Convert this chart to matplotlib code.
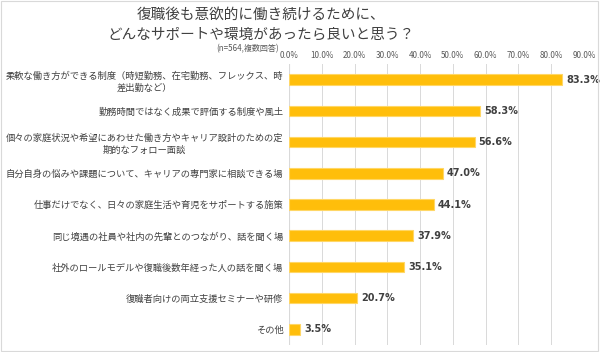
import matplotlib.pyplot as plt
from matplotlib.ticker import MultipleLocator, PercentFormatter

plt.rcParams["font.family"] = ["Noto Sans CJK JP", "DejaVu Sans"]

categories = [
    "柔軟な働き方ができる制度（時短勤務、在宅勤務、フレックス、時\n差出勤など）",
    "勤務時間ではなく成果で評価する制度や風土",
    "個々の家庭状況や希望にあわせた働き方やキャリア設計のための定\n期的なフォロー面談",
    "自分自身の悩みや課題について、キャリアの専門家に相談できる場",
    "仕事だけでなく、日々の家庭生活や育児をサポートする施策",
    "同じ境遇の社員や社内の先輩とのつながり、話を聞く場",
    "社外のロールモデルや復職後数年経った人の話を聞く場",
    "復職者向けの両立支援セミナーや研修",
    "その他",
]
values = [83.3, 58.3, 56.6, 47.0, 44.1, 37.9, 35.1, 20.7, 3.5]

fig = plt.figure(figsize=(6.0, 3.52), dpi=100)
ax = fig.add_axes([289 / 600, 1 - 345 / 352, 295 / 600, (345 - 64) / 352])

ypos = list(range(len(categories)))
ax.barh(ypos, values, height=0.34, color="#FFBE0B", edgecolor="#FFD766", linewidth=0.8, zorder=3)
for y, v in zip(ypos, values):
    ax.text(v + 1.2, y, f"{v:.1f}%", va="center", ha="left", fontsize=7,
            fontweight="bold", color="#404040", family="DejaVu Sans")

ax.set_xlim(0, 90)
ax.set_ylim(len(categories) - 0.5, -0.5)
ax.xaxis.set_major_locator(MultipleLocator(10))
ax.xaxis.set_major_formatter(PercentFormatter(decimals=1))
ax.xaxis.tick_top()
ax.tick_params(axis="x", length=0, labelsize=5.8, labelcolor="#595959", pad=3)
ax.set_yticks(ypos)
ax.set_yticklabels(categories, fontsize=6.7, color="#404040", multialignment="center",
                   linespacing=1.35)
ax.tick_params(axis="y", length=0, pad=4)
ax.grid(axis="x", color="#D9D9D9", linewidth=0.7, zorder=0)
for s in ax.spines.values():
    s.set_visible(False)
ax.axvline(0, color="#D9D9D9", linewidth=0.8, zorder=2)

fig.text(261 / 600, 1 - 15 / 352, "復職後も意欲的に働き続けるために、", ha="center", va="center",
         fontsize=10.5, color="#404040")
fig.text(261 / 600, 1 - 35 / 352, "どんなサポートや環境があったら良いと思う？", ha="center", va="center",
         fontsize=10.5, color="#404040")
fig.text(248 / 600, 1 - 49 / 352, "(n=564,複数回答)", ha="center", va="center",
         fontsize=5.8, color="#595959")

# 外枠
fig.add_artist(plt.Rectangle((0.002, 0.003), 0.995, 0.994, transform=fig.transFigure,
                             fill=False, edgecolor="#D9D9D9", linewidth=0.8))

fig.savefig("out.png", dpi=100)
